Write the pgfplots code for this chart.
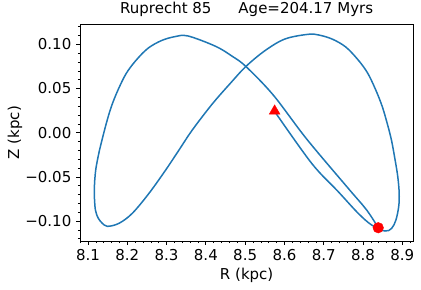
\documentclass[border=0pt]{standalone}
\usepackage{pgfplots}
\pgfplotsset{compat=1.18}
\usepackage{fontspec}
\setmainfont{DejaVu Sans}
\definecolor{c0}{HTML}{1F77B4}
\begin{document}
\fontsize{15bp}{18bp}\selectfont
\begin{tikzpicture}
\begin{axis}[
  name=ax,
  scale only axis, width=333.3bp, height=216.7bp,
  xmin=8.0796, xmax=8.928, ymin=-0.1225, ymax=0.1226,
  axis line style={line width=0.8bp, black},
  tick pos=left, tick align=outside,
  major tick length=3.5bp, minor tick length=2bp,
  every tick/.style={black, line width=0.8bp},
  every minor tick/.append style={line width=0.6bp},
  xtick={8.1,8.2,8.3,8.4,8.5,8.6,8.7,8.8,8.9},
  xticklabels={8.1,8.2,8.3,8.4,8.5,8.6,8.7,8.8,8.9},
  minor xtick={8.08,8.12,8.14,8.16,8.18,8.22,8.24,8.26,8.28,8.32,8.34,8.36,8.38,8.42,8.44,8.46,8.48,8.52,8.54,8.56,8.58,8.62,8.64,8.66,8.68,8.72,8.74,8.76,8.78,8.82,8.84,8.86,8.88,8.92},
  ytick={-0.10,-0.05,0,0.05,0.10},
  yticklabels={−0.10,−0.05,0.00,0.05,0.10},
  minor ytick={-0.12,-0.11,-0.09,-0.08,-0.07,-0.06,-0.04,-0.03,-0.02,-0.01,0.01,0.02,0.03,0.04,0.06,0.07,0.08,0.09,0.11,0.12},
  every tick label/.append style={font=\fontsize{15bp}{18bp}\selectfont},
  every axis label/.append style={font=\fontsize{15bp}{18bp}\selectfont},
  title style={font=\fontsize{15bp}{18bp}\selectfont, at={(axis description cs:0.5,1.0231)}, anchor=base},
  title={Ruprecht 85\hspace*{27bp}Age=204.17 Myrs},
  xlabel={R (kpc)},
  ylabel={Z (kpc)},
  xlabel style={at={(axis description cs:0.5,-0.1767)}, anchor=base},
  ylabel style={at={(axis description cs:-0.183,0.5)}, anchor=base},
  clip=false,
]
\addplot[only marks, mark=triangle*, mark size=6.2bp, color=red, mark options={fill=red, draw=red}] coordinates {(8.5750,0.0245)};
\addplot[only marks, mark=*, mark size=5.3bp, color=red, mark options={fill=red, draw=red}] coordinates {(8.8387,-0.1075)};
\addplot[c0, line width=1.5bp, smooth, tension=0.55] coordinates {
(8.5751,0.0240)
(8.6692,-0.0346)
(8.7369,-0.0667)
(8.7878,-0.0912)
(8.8219,-0.1044)
(8.8557,-0.1112)
(8.8728,-0.1082)
(8.8837,-0.0988)
(8.8908,-0.0837)
(8.8921,-0.0686)
(8.8885,-0.0498)
(8.8817,-0.0309)
(8.8724,-0.0084)
(8.8614,0.0108)
(8.8487,0.0299)
(8.8317,0.0491)
(8.8105,0.0684)
(8.7851,0.0836)
(8.7553,0.0972)
(8.7215,0.1059)
(8.6874,0.1105)
(8.6606,0.1113)
(8.6013,0.1060)
(8.5504,0.0928)
(8.5018,0.0749)
(8.4646,0.0570)
(8.4163,0.0325)
(8.3654,0.0030)
(8.3316,-0.0196)
(8.2977,-0.0422)
(8.2552,-0.0686)
(8.2127,-0.0912)
(8.1789,-0.1025)
(8.1491,-0.1059)
(8.1349,-0.1018)
(8.1262,-0.0968)
(8.1211,-0.0912)
(8.1178,-0.0837)
(8.1160,-0.0648)
(8.1196,-0.0422)
(8.1293,-0.0196)
(8.1356,-0.0083)
(8.1466,0.0106)
(8.1593,0.0294)
(8.1763,0.0483)
(8.1975,0.0672)
(8.2229,0.0822)
(8.2527,0.0955)
(8.2865,0.1041)
(8.3206,0.1086)
(8.3545,0.1094)
(8.4249,0.0977)
(8.4672,0.0864)
(8.5018,0.0749)
(8.5715,0.0426)
(8.6565,-0.0071)
(8.7623,-0.0629)
(8.8092,-0.0874)
(8.8387,-0.1075)
};
\end{axis}
\pgfresetboundingbox
\path[use as bounding box] ([shift={(-80bp,-49bp)}]ax.south west) rectangle ([shift={(7.7bp,24.3bp)}]ax.north east);
\end{tikzpicture}
\end{document}
